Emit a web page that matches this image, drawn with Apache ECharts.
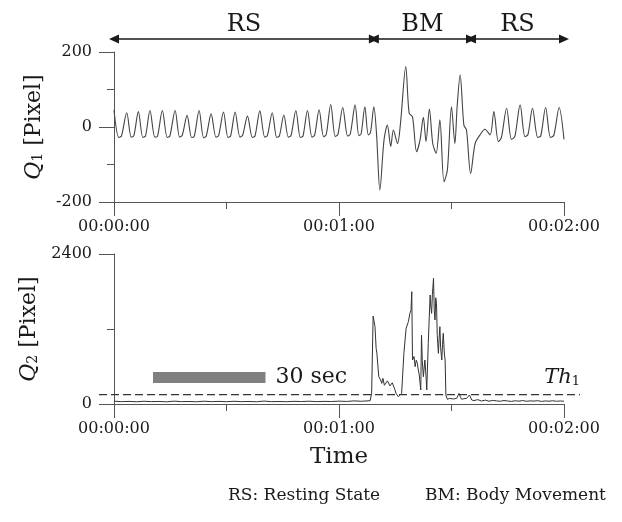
<!DOCTYPE html>
<html>
<head>
<meta charset="utf-8">
<script src="https://cdn.jsdelivr.net/npm/echarts@6/dist/echarts.min.js"></script>
<style>
  html, body { margin: 0; padding: 0; background: #fff; }
  #chart { width: 622px; height: 522px; }
</style>
</head>
<body>
<div id="chart"></div>
<script>
// Q1 (upper trace), [seconds, pixel]
const q1Rest1 = [
  [0, 45], [1.3, -28], [2.0, -24], [3.4, 38], [4.6, -27], [5.3, -23], [6.5, 41],
  [7.7, -28], [8.4, -24], [9.6, 44], [10.9, -27], [11.6, -25], [12.9, 44],
  [14.2, -28], [14.9, -24], [16.3, 44], [17.5, -27], [18.2, -22], [19.5, 31],
  [20.7, -28], [21.4, -25], [22.7, 44], [23.9, -29], [24.6, -24], [25.9, 35],
  [27.2, -27], [27.9, -23], [29.2, 40], [30.4, -28], [31.1, -24], [32.3, 40],
  [33.6, -27], [34.3, -22], [35.6, 29], [36.9, -28], [37.6, -24], [38.9, 43],
  [40.2, -27], [40.9, -23], [42.2, 38], [43.4, -28], [44.1, -24], [45.3, 32],
  [46.5, -27], [47.2, -23], [48.5, 44], [49.7, -28], [50.4, -24], [51.6, 44],
  [52.8, -27], [53.5, -22], [54.7, 46], [55.9, -26], [56.6, -20], [57.8, 60],
  [59.0, -25], [59.7, -20], [61.0, 52], [62.3, -24], [63.0, -19], [64.3, 59],
  [65.3, -23], [65.9, -18], [66.9, 54], [67.8, -21], [68.4, -15], [69.3, 54],
  [70.0, -17]
];
const q1Movement = [
  [70.9, -168], [72.0, -35], [72.9, 5], [73.8, -52], [74.5, -8], [75.6, -44],
  [76.4, 10], [77.8, 161], [78.7, 37], [79.6, 27], [80.7, -66], [81.6, -35],
  [82.5, 26], [83.2, -39], [84.1, 48], [85.0, -44], [85.9, -70], [86.9, 19],
  [88.0, -146], [88.9, -115], [90.0, 54], [90.9, -44], [91.5, 54], [92.3, 139],
  [93.3, 5], [94.0, -8], [95.1, -124], [96.3, -44], [97.6, -21], [98.9, -6],
  [100.3, -21]
];
const q1Rest2 = [
  [101.3, 41], [102.5, -39], [103.3, -28], [104.7, 50], [106.0, -33], [106.9, -25],
  [108.3, 59], [109.6, -26], [110.4, -20], [111.6, 50], [113.0, -28], [113.8, -24],
  [115.1, 52], [116.4, -28], [117.3, -22], [118.7, 52], [120, -33]
];

// Q2 (lower trace), [seconds, pixel]
const q2Rest1 = [
  [0, 45], [2, 38], [4, 42], [6, 36], [8, 44], [10, 38], [12, 41], [14, 35],
  [16, 46], [18, 38], [20, 40], [22, 36], [24, 45], [26, 38], [28, 42], [30, 37],
  [32, 44], [34, 38], [36, 41], [38, 36], [40, 47], [42, 38], [44, 40], [46, 37],
  [48, 43], [50, 39], [52, 45], [54, 38], [56, 42], [58, 40], [60, 46], [62, 41],
  [64, 50], [66, 44], [68.3, 53]
];
const q2Movement = [
  [68.7, 171], [69.1, 1408], [69.6, 1237], [69.9, 891], [70.1, 811], [70.6, 437],
  [71.1, 384], [71.4, 330], [71.7, 411], [72.1, 300], [72.5, 304], [72.9, 370],
  [73.2, 357], [73.6, 290], [73.9, 277], [74.2, 340], [74.5, 331], [74.9, 230],
  [75.2, 171], [75.5, 140], [75.8, 117], [76.3, 91], [76.7, 171], [77.3, 811],
  [77.9, 1211], [78.5, 1317], [78.9, 1451], [79.2, 1500], [79.4, 1797], [79.6, 704],
  [80.0, 760], [80.3, 597], [80.6, 700], [80.9, 651], [81.1, 560], [81.4, 464],
  [81.8, 224], [82.0, 1104], [82.2, 700], [82.5, 437], [82.9, 704], [83.2, 450],
  [83.4, 224], [83.8, 971], [84.3, 1744], [84.5, 1550], [84.7, 1451], [84.9, 1750],
  [85.2, 2011], [85.4, 1500], [85.6, 1344], [85.8, 1700], [86.0, 1611], [86.2, 1100],
  [86.5, 811], [86.7, 1050], [86.9, 1237], [87.1, 900], [87.4, 704], [87.6, 950],
  [87.8, 1131], [88.1, 800], [88.3, 704], [88.5, 144], [88.9, 75], [89.5, 90],
  [90.0, 107], [90.5, 80], [91.0, 95], [91.4, 91], [92.0, 171], [92.4, 110],
  [92.7, 75], [93.3, 85], [94.0, 90], [94.8, 144], [95.4, 64]
];
const q2Rest2 = [
  [96, 55], [97, 70], [98, 48], [99, 62], [100, 45], [101, 58], [102, 50], [103, 44],
  [104, 56], [105, 48], [106, 42], [107, 52], [108, 46], [109, 55], [110, 44],
  [111, 50], [112, 47], [113, 53], [114, 42], [115, 49], [116, 45], [117, 52],
  [118, 44], [119, 48], [120, 45]
];

// state segments on top (seconds)
const stateNames = ['RS', 'BM', 'RS'];
const stateStart = [0, 69.3, 95.2];
const stateEnd = [69.3, 95.2, 120];

const th1 = 150;             // threshold on Q2
const scaleBarStart = 10.4;  // seconds
const scaleBarLength = 30;
const scaleBarLevel = 424;   // Q2 units

const xTickLabels = ['00:00:00', '00:01:00', '00:02:00'];

const serif = 'DejaVu Serif';
const ink = '#1a1a1a';
const axisColor = '#555';

const chart = echarts.init(document.getElementById('chart'));

function timeAxis(gridIndex, extra) {
  return Object.assign({
    type: 'value',
    gridIndex: gridIndex,
    min: 0,
    max: 120,
    interval: 60,
    axisLine: { onZero: false, lineStyle: { color: axisColor, width: 1 } },
    axisTick: { length: 14, lineStyle: { color: axisColor } },
    minorTick: { show: true, splitNumber: 2, length: 7, lineStyle: { color: axisColor } },
    splitLine: { show: false },
    minorSplitLine: { show: false },
    axisLabel: {
      margin: 17,
      fontFamily: serif,
      fontSize: 16,
      color: ink,
      formatter: function (v) { return xTickLabels[Math.round(v / 60)]; }
    }
  }, extra || {});
}

function pixelAxis(gridIndex, min, max, sub) {
  return {
    type: 'value',
    gridIndex: gridIndex,
    min: min,
    max: max,
    interval: max - min === 400 ? 200 : max - min,
    name: '{q|Q}{s|' + sub + '} [Pixel]',
    nameLocation: 'middle',
    nameRotate: 90,
    nameGap: 66,
    nameTextStyle: {
      fontFamily: serif,
      fontSize: 22,
      color: ink,
      rich: {
        q: { fontFamily: serif, fontSize: 22, fontStyle: 'italic', color: ink },
        s: { fontFamily: serif, fontSize: 14, color: ink, verticalAlign: 'bottom' }
      }
    },
    axisLine: { show: true, lineStyle: { color: axisColor, width: 1 } },
    axisTick: { show: true, length: 15, lineStyle: { color: axisColor } },
    minorTick: { show: true, splitNumber: 2, length: 7, lineStyle: { color: axisColor } },
    splitLine: { show: false },
    minorSplitLine: { show: false },
    axisLabel: {
      margin: 22,
      fontFamily: serif,
      fontSize: 16,
      color: ink,
      formatter: function (v) { return String(v); }
    }
  };
}

const option = {
  backgroundColor: '#fff',
  animation: false,
  grid: [
    { left: 114, width: 450, top: 52, height: 150 },
    { left: 114, width: 450, top: 254, height: 150 },
    { left: 114, width: 450, top: 30, height: 18 }
  ],
  xAxis: [
    timeAxis(0),
    timeAxis(1, {
      name: 'Time',
      nameLocation: 'middle',
      nameGap: 42,
      nameTextStyle: { fontFamily: serif, fontSize: 23, color: ink }
    }),
    { type: 'value', gridIndex: 2, min: 0, max: 120, show: false }
  ],
  yAxis: [
    pixelAxis(0, -200, 200, '1'),
    pixelAxis(1, 0, 2400, '2'),
    { type: 'value', gridIndex: 2, min: 0, max: 1, show: false }
  ],
  series: [
    {
      name: 'Q1',
      type: 'line',
      xAxisIndex: 0,
      yAxisIndex: 0,
      data: q1Rest1.concat(q1Movement, q1Rest2),
      showSymbol: false,
      smooth: 0.3,
      lineStyle: { color: '#444', width: 1.1 }
    },
    {
      name: 'Q2',
      type: 'line',
      xAxisIndex: 1,
      yAxisIndex: 1,
      data: q2Rest1.concat(q2Movement, q2Rest2),
      showSymbol: false,
      lineStyle: { color: '#333', width: 1 }
    },
    {
      name: 'scale',
      type: 'line',
      xAxisIndex: 1,
      yAxisIndex: 1,
      data: [[scaleBarStart, scaleBarLevel], [scaleBarStart + scaleBarLength, scaleBarLevel]],
      showSymbol: false,
      lineStyle: { color: '#808080', width: 11, cap: 'butt' },
      endLabel: {
        show: true,
        formatter: '30 sec',
        distance: 10,
        fontFamily: serif,
        fontSize: 22,
        color: ink
      }
    },
    {
      name: 'states',
      type: 'line',
      xAxisIndex: 2,
      yAxisIndex: 2,
      data: [],
      markLine: {
        silent: true,
        symbol: ['triangle', 'triangle'],
        symbolSize: [9, 10],
        lineStyle: { color: ink, width: 1.5, type: 'solid' },
        label: {
          show: true,
          position: 'insideMiddleTop',
          distance: 2,
          formatter: '{b}',
          fontFamily: serif,
          fontSize: 24,
          color: ink
        },
        data: stateNames.map(function (n, i) {
          return [{ name: n, coord: [stateStart[i], 0.5] }, { coord: [stateEnd[i], 0.5] }];
        })
      }
    }
  ]
};

chart.setOption(option);

// threshold line runs a little past both ends of the lower plot
const thLeft = chart.convertToPixel({ gridIndex: 1 }, [0, th1]);
const thRight = chart.convertToPixel({ gridIndex: 1 }, [120, th1]);
chart.setOption({
  graphic: [
    {
      type: 'line',
      shape: { x1: thLeft[0] - 15, y1: thLeft[1], x2: thRight[0] + 16, y2: thRight[1] },
      style: { stroke: '#333', lineWidth: 1.2, lineDash: [8, 4] },
      z: 10
    },
    {
      type: 'text',
      x: thRight[0] + 16,
      y: thRight[1] - 7,
      style: {
        text: '{i|Th}{s|1}',
        align: 'right',
        verticalAlign: 'bottom',
        fill: ink,
        rich: {
          i: { fontFamily: serif, fontSize: 21, fontStyle: 'italic', fill: ink },
          s: { fontFamily: serif, fontSize: 13, fill: ink, verticalAlign: 'bottom' }
        }
      }
    },
    {
      type: 'text',
      x: 228,
      y: 496,
      style: { text: 'RS: Resting State', font: '17px "DejaVu Serif"', fill: ink, align: 'left', verticalAlign: 'middle' }
    },
    {
      type: 'text',
      x: 425,
      y: 496,
      style: { text: 'BM: Body Movement', font: '17px "DejaVu Serif"', fill: ink, align: 'left', verticalAlign: 'middle' }
    }
  ]
});

window.addEventListener('resize', chart.resize);
</script>
</body>
</html>
